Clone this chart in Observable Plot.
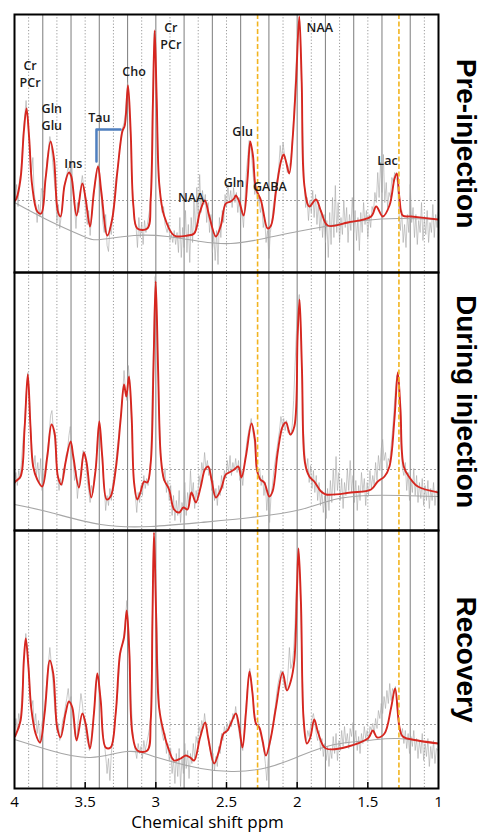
<!DOCTYPE html>
<html><head><meta charset="utf-8">
<script src="https://cdn.jsdelivr.net/npm/d3@7"></script>
<script src="https://cdn.jsdelivr.net/npm/@observablehq/plot@0.6"></script>
<style>body{margin:0;background:#fff;}#chart svg{display:block;}</style>
</head><body><div id="chart"></div>
<script>
// ---------- categories / ticks ----------
const panels = ["Pre-injection", "During injection", "Recovery"];
const xTicks = [4, 3.5, 3, 2.5, 2, 1.5, 1];
const solidGrid = [3.8, 3.6, 3.4, 3.2, 3.0, 2.8, 2.6, 2.4, 2.2, 2.0, 1.8, 1.6, 1.4, 1.2];
const dottedGrid = [3.9, 3.7, 3.5, 3.3, 3.1, 2.9, 2.7, 2.5, 2.1, 1.9, 1.7, 1.5, 1.1];
const markerPpm = [2.28, 1.28];
const refLevel = [72, 61, 64];

// ---------- fitted spectra [ppm, intensity a.u.] ----------
const fitPre = [[3.995,72],[3.986,74],[3.957,94],[3.934,141],[3.915,164],[3.896,134],[3.875,87],[3.839,61],[3.811,59],[3.78,94],[3.745,131],[3.721,114],[3.693,61],[3.674,56],[3.646,87],[3.615,100],[3.598,96],[3.561,57],[3.52,89],[3.497,74],[3.466,46],[3.438,81],[3.409,106],[3.386,81],[3.343,37],[3.308,54],[3.272,101],[3.237,141],[3.22,147],[3.197,187],[3.178,141],[3.159,67],[3.131,44],[3.06,44],[3.036,74],[3.02,174],[3.008,242],[2.994,174],[2.975,87],[2.942,57],[2.871,37],[2.776,37],[2.729,39],[2.687,61],[2.653,72],[2.623,57],[2.575,36],[2.54,47],[2.505,69],[2.469,71],[2.446,74],[2.434,77],[2.41,71],[2.379,57],[2.351,94],[2.332,131],[2.313,117],[2.292,84],[2.256,72],[2.209,44],[2.185,47],[2.15,81],[2.115,111],[2.096,118],[2.079,111],[2.056,99],[2.032,134],[2.008,191],[1.985,256],[1.968,191],[1.949,87],[1.914,66],[1.867,73],[1.831,61],[1.784,47],[1.642,50],[1.477,56],[1.441,66],[1.394,56],[1.347,67],[1.311,94],[1.295,99],[1.276,74],[1.253,57],[1.193,56],[1.0,53]];
const fitDuring = [[3.997,48],[3.993,49],[3.957,54],[3.929,101],[3.906,156],[3.887,104],[3.868,64],[3.839,51],[3.804,44],[3.768,74],[3.738,106],[3.717,98],[3.693,54],[3.669,46],[3.639,68],[3.603,89],[3.584,74],[3.544,43],[3.509,78],[3.49,68],[3.457,33],[3.426,61],[3.4,109],[3.379,74],[3.348,31],[3.32,34],[3.284,61],[3.249,111],[3.225,146],[3.209,134],[3.19,154],[3.171,114],[3.154,48],[3.131,31],[3.107,39],[3.083,49],[3.06,48],[3.036,68],[3.017,161],[3.001,249],[2.984,161],[2.965,74],[2.942,51],[2.906,41],[2.871,21],[2.835,18],[2.805,23],[2.776,21],[2.748,38],[2.717,28],[2.682,44],[2.653,61],[2.63,64],[2.606,51],[2.575,33],[2.54,41],[2.505,56],[2.481,58],[2.446,61],[2.417,64],[2.394,53],[2.363,74],[2.323,107],[2.299,91],[2.285,61],[2.261,51],[2.233,48],[2.197,34],[2.174,39],[2.138,78],[2.103,104],[2.079,108],[2.049,96],[2.02,104],[1.997,194],[1.983,231],[1.966,161],[1.945,68],[1.914,54],[1.879,49],[1.831,39],[1.796,36],[1.619,38],[1.477,41],[1.43,49],[1.382,54],[1.347,64],[1.312,111],[1.288,158],[1.269,121],[1.246,64],[1.205,53],[1.146,44],[1.0,38]];
const fitRecovery = [[3.997,52],[3.993,53],[3.957,68],[3.934,128],[3.92,150],[3.901,121],[3.882,81],[3.851,55],[3.82,46],[3.787,75],[3.75,128],[3.726,115],[3.698,61],[3.674,51],[3.639,75],[3.615,87],[3.591,81],[3.561,48],[3.52,75],[3.497,65],[3.466,40],[3.438,75],[3.414,115],[3.39,88],[3.355,41],[3.32,41],[3.284,75],[3.253,135],[3.225,151],[3.206,178],[3.187,135],[3.166,55],[3.131,38],[3.06,38],[3.036,68],[3.024,168],[3.013,256],[2.998,175],[2.977,81],[2.942,55],[2.906,38],[2.871,28],[2.824,30],[2.788,33],[2.757,31],[2.729,28],[2.687,51],[2.651,66],[2.63,51],[2.587,25],[2.552,38],[2.521,55],[2.493,58],[2.469,65],[2.434,75],[2.41,61],[2.387,41],[2.363,75],[2.337,117],[2.316,95],[2.292,65],[2.268,61],[2.245,48],[2.221,33],[2.186,51],[2.15,81],[2.103,116],[2.072,98],[2.044,108],[2.02,128],[2.001,201],[1.99,240],[1.973,185],[1.954,68],[1.931,45],[1.907,51],[1.879,69],[1.85,55],[1.796,40],[1.5,50],[1.465,58],[1.434,51],[1.382,55],[1.335,81],[1.307,100],[1.276,61],[1.253,52],[1.146,48],[1.0,45]];

// ---------- raw (noisy) spectra [ppm, intensity] ----------
const rawPre = [[3.998,70],[3.995,72],[3.985,88],[3.975,66],[3.965,92],[3.955,100],[3.935,145],[3.918,172],[3.9,140],[3.88,100],[3.87,115],[3.86,78],[3.85,70],[3.84,50],[3.83,68],[3.82,56],[3.81,84],[3.79,80],[3.77,112],[3.75,136],[3.74,128],[3.73,110],[3.71,80],[3.70,50],[3.69,68],[3.68,44],[3.665,62],[3.65,85],[3.635,95],[3.62,105],[3.605,98],[3.595,111],[3.585,80],[3.575,66],[3.565,44],[3.555,70],[3.545,60],[3.535,82],[3.52,97],[3.505,80],[3.495,58],[3.485,48],[3.475,62],[3.465,37],[3.455,56],[3.445,70],[3.43,88],[3.415,104],[3.405,108],[3.395,88],[3.385,72],[3.375,50],[3.365,40],[3.355,58],[3.345,27],[3.335,21],[3.325,45],[3.315,38],[3.305,60],[3.295,72],[3.285,92],[3.27,105],[3.255,125],[3.24,142],[3.225,150],[3.215,160],[3.2,190],[3.19,170],[3.18,138],[3.17,100],[3.16,68],[3.15,52],[3.14,46],[3.13,25],[3.12,55],[3.11,35],[3.1,50],[3.09,28],[3.08,52],[3.07,40],[3.06,48],[3.045,62],[3.035,80],[3.025,160],[3.012,240],[3.0,200],[2.99,150],[2.98,100],[2.965,74],[2.955,60],[2.945,66],[2.935,48],[2.92,40],[2.91,50],[2.9,32],[2.89,38],[2.88,30],[2.87,42],[2.86,28],[2.85,40],[2.84,20],[2.83,55],[2.82,15],[2.81,45],[2.8,25],[2.79,62],[2.78,20],[2.77,48],[2.76,10],[2.75,55],[2.74,30],[2.73,72],[2.72,40],[2.71,85],[2.70,50],[2.69,98],[2.68,60],[2.67,82],[2.66,68],[2.65,78],[2.64,50],[2.63,70],[2.62,40],[2.61,58],[2.60,20],[2.59,38],[2.58,12],[2.57,42],[2.56,8],[2.55,55],[2.54,35],[2.53,62],[2.52,50],[2.51,78],[2.50,65],[2.49,88],[2.48,70],[2.47,82],[2.46,65],[2.45,85],[2.44,70],[2.43,80],[2.42,60],[2.41,75],[2.40,55],[2.39,62],[2.38,45],[2.37,70],[2.36,100],[2.35,115],[2.34,132],[2.33,128],[2.32,112],[2.31,95],[2.30,78],[2.29,86],[2.28,70],[2.27,76],[2.26,60],[2.25,68],[2.24,45],[2.23,55],[2.22,30],[2.21,42],[2.20,14],[2.19,40],[2.18,50],[2.17,65],[2.16,75],[2.15,88],[2.14,95],[2.13,105],[2.12,127],[2.11,112],[2.10,130],[2.09,118],[2.08,112],[2.07,100],[2.06,105],[2.05,110],[2.04,120],[2.03,140],[2.015,185],[2.0,230],[1.99,250],[1.98,245],[1.97,195],[1.96,140],[1.95,90],[1.94,65],[1.93,75],[1.92,52],[1.91,72],[1.90,60],[1.89,82],[1.88,55],[1.87,78],[1.86,48],[1.85,70],[1.84,42],[1.83,62],[1.82,35],[1.81,58],[1.80,30],[1.79,52],[1.78,15],[1.77,60],[1.76,28],[1.75,75],[1.74,35],[1.73,87],[1.72,40],[1.71,70],[1.70,30],[1.69,55],[1.68,38],[1.67,72],[1.66,45],[1.65,65],[1.64,30],[1.63,58],[1.62,42],[1.61,75],[1.60,40],[1.59,62],[1.58,32],[1.57,55],[1.56,22],[1.55,60],[1.54,40],[1.53,70],[1.52,48],[1.51,62],[1.50,35],[1.49,58],[1.48,45],[1.47,66],[1.46,60],[1.45,80],[1.44,70],[1.43,100],[1.42,75],[1.41,110],[1.40,80],[1.39,118],[1.38,70],[1.37,90],[1.36,65],[1.35,80],[1.34,75],[1.33,95],[1.32,90],[1.31,100],[1.30,95],[1.29,90],[1.28,60],[1.27,42],[1.26,62],[1.25,30],[1.24,48],[1.23,25],[1.22,58],[1.21,40],[1.20,88],[1.19,50],[1.18,65],[1.17,35],[1.16,58],[1.15,28],[1.14,52],[1.13,40],[1.12,70],[1.11,32],[1.10,55],[1.09,38],[1.08,62],[1.07,30],[1.06,50],[1.05,40],[1.04,68],[1.03,35],[1.02,58],[1.01,45],[1.002,60]];
const rawDuring = [[3.998,50],[3.99,58],[3.98,45],[3.97,60],[3.96,52],[3.95,70],[3.94,90],[3.93,105],[3.92,130],[3.91,150],[3.905,158],[3.895,135],[3.885,100],[3.875,78],[3.865,62],[3.855,75],[3.845,55],[3.835,68],[3.825,48],[3.815,72],[3.805,40],[3.795,55],[3.785,60],[3.775,70],[3.765,82],[3.755,95],[3.745,115],[3.735,120],[3.725,100],[3.715,92],[3.705,70],[3.695,55],[3.685,40],[3.675,52],[3.665,45],[3.655,62],[3.645,58],[3.635,75],[3.625,80],[3.615,95],[3.605,104],[3.595,82],[3.585,70],[3.575,50],[3.565,60],[3.555,32],[3.545,48],[3.535,55],[3.525,65],[3.515,80],[3.505,75],[3.495,70],[3.485,50],[3.475,40],[3.465,28],[3.455,45],[3.445,38],[3.435,55],[3.425,60],[3.415,85],[3.405,105],[3.395,100],[3.385,80],[3.375,60],[3.365,45],[3.355,20],[3.345,35],[3.335,25],[3.325,42],[3.315,30],[3.305,48],[3.295,55],[3.285,65],[3.275,80],[3.265,92],[3.255,108],[3.245,118],[3.235,135],[3.225,160],[3.215,140],[3.205,130],[3.195,165],[3.185,150],[3.175,115],[3.165,80],[3.155,50],[3.145,35],[3.135,18],[3.125,38],[3.115,28],[3.105,45],[3.095,35],[3.085,55],[3.075,42],[3.065,52],[3.055,45],[3.045,58],[3.035,72],[3.025,140],[3.015,190],[3.005,254],[2.995,220],[2.985,165],[2.975,110],[2.965,78],[2.955,60],[2.945,50],[2.935,62],[2.925,38],[2.915,50],[2.905,30],[2.895,45],[2.885,15],[2.875,35],[2.865,10],[2.855,30],[2.845,15],[2.835,40],[2.825,8],[2.815,28],[2.805,20],[2.795,48],[2.785,15],[2.775,38],[2.765,25],[2.755,60],[2.745,35],[2.735,48],[2.725,22],[2.715,40],[2.705,30],[2.695,55],[2.685,45],[2.675,68],[2.665,58],[2.655,78],[2.645,62],[2.635,70],[2.625,55],[2.615,62],[2.605,40],[2.595,50],[2.585,30],[2.575,42],[2.565,25],[2.555,45],[2.545,35],[2.535,55],[2.525,42],[2.515,60],[2.505,52],[2.495,70],[2.485,58],[2.475,75],[2.465,55],[2.455,68],[2.445,60],[2.435,72],[2.425,58],[2.415,70],[2.405,50],[2.395,60],[2.385,45],[2.375,62],[2.365,78],[2.355,90],[2.345,98],[2.335,105],[2.325,112],[2.315,100],[2.305,92],[2.295,75],[2.285,65],[2.275,58],[2.265,62],[2.255,45],[2.245,55],[2.235,35],[2.225,48],[2.215,20],[2.205,40],[2.195,8],[2.185,35],[2.175,45],[2.165,60],[2.155,70],[2.145,80],[2.135,90],[2.125,100],[2.115,114],[2.105,105],[2.095,112],[2.085,100],[2.075,110],[2.065,98],[2.055,100],[2.045,95],[2.035,105],[2.025,130],[2.015,165],[2.005,200],[1.995,225],[1.985,236],[1.975,200],[1.965,150],[1.955,100],[1.945,75],[1.935,60],[1.925,72],[1.915,48],[1.905,65],[1.895,42],[1.885,60],[1.875,38],[1.865,55],[1.855,30],[1.845,48],[1.835,25],[1.825,40],[1.815,18],[1.805,35],[1.795,12],[1.785,42],[1.775,20],[1.765,50],[1.755,28],[1.745,62],[1.735,35],[1.725,74],[1.715,40],[1.705,58],[1.695,30],[1.685,52],[1.675,22],[1.665,48],[1.655,35],[1.645,62],[1.635,40],[1.625,70],[1.615,38],[1.605,55],[1.595,28],[1.585,50],[1.575,20],[1.565,45],[1.555,30],[1.545,58],[1.535,38],[1.525,52],[1.515,25],[1.505,48],[1.495,35],[1.485,60],[1.475,42],[1.465,55],[1.455,45],[1.445,68],[1.435,50],[1.425,75],[1.415,60],[1.405,82],[1.395,91],[1.385,70],[1.375,78],[1.365,62],[1.355,72],[1.345,68],[1.335,85],[1.325,100],[1.315,120],[1.305,140],[1.295,155],[1.285,150],[1.275,120],[1.265,85],[1.255,62],[1.245,55],[1.235,68],[1.225,40],[1.215,58],[1.205,30],[1.195,50],[1.185,38],[1.175,62],[1.165,35],[1.155,55],[1.145,28],[1.135,48],[1.125,32],[1.115,52],[1.105,25],[1.095,45],[1.085,30],[1.075,50],[1.065,22],[1.055,42],[1.045,30],[1.035,48],[1.025,25],[1.015,40],[1.003,35]];
const rawRecovery = [[3.998,55],[3.99,70],[3.98,58],[3.97,75],[3.96,65],[3.95,88],[3.94,110],[3.93,135],[3.92,155],[3.91,140],[3.9,122],[3.89,95],[3.88,80],[3.87,88],[3.86,62],[3.85,75],[3.84,55],[3.83,68],[3.82,45],[3.81,62],[3.8,70],[3.79,78],[3.78,92],[3.77,110],[3.76,125],[3.75,141],[3.74,125],[3.73,110],[3.72,90],[3.71,72],[3.70,58],[3.69,65],[3.68,48],[3.67,55],[3.66,68],[3.65,72],[3.64,82],[3.63,90],[3.62,100],[3.61,85],[3.60,92],[3.59,75],[3.58,62],[3.57,52],[3.56,48],[3.55,68],[3.54,80],[3.53,95],[3.52,85],[3.51,70],[3.50,62],[3.49,50],[3.48,45],[3.47,38],[3.46,48],[3.45,58],[3.44,72],[3.43,90],[3.42,108],[3.41,112],[3.40,95],[3.39,85],[3.38,65],[3.37,50],[3.36,40],[3.35,25],[3.345,15],[3.335,30],[3.325,8],[3.315,35],[3.305,50],[3.295,58],[3.285,72],[3.275,88],[3.265,105],[3.255,130],[3.245,140],[3.235,145],[3.225,155],[3.215,170],[3.205,188],[3.195,165],[3.185,130],[3.175,90],[3.165,60],[3.155,45],[3.145,38],[3.135,30],[3.125,45],[3.115,35],[3.105,42],[3.095,30],[3.085,48],[3.075,38],[3.065,45],[3.055,52],[3.045,60],[3.035,75],[3.025,165],[3.015,250],[3.005,215],[2.995,170],[2.985,120],[2.975,82],[2.965,65],[2.955,55],[2.945,48],[2.935,55],[2.925,35],[2.915,45],[2.905,28],[2.895,40],[2.885,15],[2.875,30],[2.865,5],[2.855,35],[2.845,12],[2.835,40],[2.825,2],[2.815,30],[2.805,15],[2.795,45],[2.785,20],[2.775,38],[2.765,10],[2.755,35],[2.745,25],[2.735,45],[2.725,30],[2.715,52],[2.705,45],[2.695,62],[2.685,55],[2.675,68],[2.665,60],[2.655,75],[2.645,62],[2.635,55],[2.625,45],[2.615,38],[2.605,28],[2.595,35],[2.585,18],[2.575,32],[2.565,22],[2.555,42],[2.545,35],[2.535,55],[2.525,48],[2.515,62],[2.505,55],[2.495,65],[2.485,58],[2.475,68],[2.465,62],[2.455,75],[2.445,70],[2.435,82],[2.425,68],[2.415,60],[2.405,50],[2.395,42],[2.385,38],[2.375,55],[2.365,78],[2.355,95],[2.345,110],[2.335,120],[2.325,108],[2.315,95],[2.305,80],[2.295,68],[2.285,70],[2.275,65],[2.265,58],[2.255,52],[2.245,45],[2.235,38],[2.225,25],[2.215,8],[2.205,30],[2.195,42],[2.185,50],[2.175,62],[2.165,72],[2.155,82],[2.145,95],[2.135,105],[2.125,112],[2.115,118],[2.105,115],[2.095,105],[2.085,100],[2.075,98],[2.065,115],[2.055,141],[2.045,120],[2.035,125],[2.025,138],[2.015,165],[2.005,205],[1.995,240],[1.985,230],[1.975,180],[1.965,120],[1.955,75],[1.945,55],[1.935,48],[1.925,58],[1.915,52],[1.905,62],[1.895,70],[1.885,75],[1.875,65],[1.865,55],[1.855,48],[1.845,58],[1.835,38],[1.825,50],[1.815,32],[1.805,45],[1.795,28],[1.785,42],[1.775,22],[1.765,40],[1.755,30],[1.745,52],[1.735,35],[1.725,55],[1.715,28],[1.705,48],[1.695,38],[1.685,58],[1.675,42],[1.665,62],[1.655,45],[1.645,55],[1.635,40],[1.625,60],[1.615,52],[1.605,66],[1.595,45],[1.585,58],[1.575,38],[1.565,52],[1.555,35],[1.545,55],[1.535,45],[1.525,62],[1.515,50],[1.505,58],[1.495,48],[1.485,62],[1.475,58],[1.465,65],[1.455,55],[1.445,70],[1.435,60],[1.425,78],[1.415,70],[1.405,85],[1.395,75],[1.385,92],[1.375,80],[1.365,98],[1.355,85],[1.345,105],[1.335,88],[1.325,100],[1.315,95],[1.305,102],[1.295,85],[1.285,70],[1.275,60],[1.265,52],[1.255,60],[1.245,45],[1.235,58],[1.225,40],[1.215,55],[1.205,35],[1.195,52],[1.185,42],[1.175,58],[1.165,38],[1.155,50],[1.145,30],[1.135,48],[1.125,35],[1.115,55],[1.105,28],[1.095,45],[1.085,32],[1.075,50],[1.065,22],[1.055,42],[1.045,30],[1.035,48],[1.025,25],[1.015,40],[1.003,38]];

// ---------- fitted baselines [ppm, intensity] ----------
const basePre = [[4.0,70],[3.745,51],[3.509,36],[3.39,33],[3.154,37],[2.918,36],[2.682,31],[2.469,29],[2.233,34],[1.997,41],[1.76,47],[1.524,52],[1.288,54],[1.0,53]];
const baseDuring = [[4.0,26],[3.745,18],[3.39,6],[3.036,4],[2.682,8],[2.327,13],[1.973,21],[1.737,31],[1.5,35],[1.264,35],[1.0,34]];
const baseRecovery = [[4.0,49],[3.745,38],[3.461,31],[3.202,37],[2.989,31],[2.682,20],[2.446,17],[2.21,21],[1.973,33],[1.737,44],[1.5,48],[1.288,50],[1.0,45]];

// ---------- annotations (Pre-injection panel) ----------
const labelText = ["Cr\nPCr", "Gln\nGlu", "Ins", "Tau", "Cho", "Cr\nPCr", "NAA", "Gln", "Glu", "GABA", "NAA", "Lac"];
const labelPpm  = [3.89, 3.736, 3.584, 3.40, 3.154, 2.894, 2.75, 2.447, 2.386, 2.193, 1.84, 1.361];
const labelInt  = [199, 156, 110, 156, 202, 237, 76, 91, 142, 87, 246, 113];
const tauBracketPpm = [3.42, 3.42, 3.25];
const tauBracketInt = [111, 143, 143];

// ---------- build tables ----------
const toRows = (arr, panel) => arr.map(([ppm, v]) => ({panel, ppm, v}));
const fitRows = [...toRows(fitPre, panels[0]), ...toRows(fitDuring, panels[1]), ...toRows(fitRecovery, panels[2])];
const rawRows = [...toRows(rawPre, panels[0]), ...toRows(rawDuring, panels[1]), ...toRows(rawRecovery, panels[2])];
const baseRows = [...toRows(basePre, panels[0]), ...toRows(baseDuring, panels[1]), ...toRows(baseRecovery, panels[2])];
const levelRows = panels.map((panel, i) => ({panel, v: refLevel[i]}));
const labelRows = labelText.map((t, i) => ({panel: panels[0], text: t, ppm: labelPpm[i], v: labelInt[i]}));
const bracketRows = tauBracketPpm.map((p, i) => ({panel: panels[0], ppm: p, v: tauBracketInt[i]}));
const innerTickRows = xTicks.slice(1, -1).map(ppm => ({panel: panels[2], ppm}));

const FONT = "'Open Sans', 'DejaVu Sans', sans-serif";

const chart = Plot.plot({
  width: 482,
  height: 833,
  marginTop: 14,
  marginBottom: 45,
  marginLeft: 14,
  marginRight: 44,
  style: {fontFamily: FONT, background: "white", color: "black", overflow: "visible"},
  x: {domain: [4, 1]},
  y: {domain: [0, 258], axis: null},
  fy: {domain: panels, padding: 0, axis: null},
  marks: [
    Plot.ruleX(solidGrid, {stroke: "#888888", strokeWidth: 1.1}),
    Plot.ruleX(dottedGrid, {stroke: "#9a9a9a", strokeWidth: 1, strokeDasharray: "1.2,2"}),
    Plot.ruleY(levelRows, {fy: "panel", y: "v", stroke: "#8a8a8a", strokeWidth: 0.8, strokeDasharray: "2,2"}),
    Plot.line(baseRows, {fy: "panel", x: "ppm", y: "v", curve: "natural", stroke: "#a6a6a6", strokeWidth: 1.1, clip: true}),
    Plot.line(rawRows, {fy: "panel", x: "ppm", y: "v", stroke: "#a4a4a4", strokeWidth: 0.6, clip: true}),
    Plot.line(fitRows, {fy: "panel", x: "ppm", y: "v", curve: "catmull-rom", stroke: "#d6261f", strokeWidth: 1.9, clip: true}),
    Plot.ruleX(markerPpm, {stroke: "#f2b420", strokeWidth: 1.6, strokeDasharray: "5,2.5"}),
    Plot.line(bracketRows, {fy: "panel", x: "ppm", y: "v", stroke: "#4f7fbf", strokeWidth: 2.5}),
    Plot.text(labelRows, {fy: "panel", x: "ppm", y: "v", text: "text", fontSize: 12.5, fontWeight: 600, lineHeight: 1.36, fill: "#1a1a1a"}),
    Plot.ruleX(innerTickRows, {fy: "panel", x: "ppm", y1: 0, y2: 6, stroke: "black", strokeWidth: 1.5}),
    Plot.frame({stroke: "black", strokeWidth: 2}),
    Plot.text(panels, {fy: d => d, text: d => d, frameAnchor: "right", textAnchor: "middle", lineAnchor: "middle", dx: 27, rotate: 90, fontSize: 28, fontWeight: "bold", fontFamily: "'Liberation Sans', Arial, sans-serif", fill: "black"}),
    Plot.axisX({ticks: xTicks, tickSize: 0, tickPadding: 8, fontSize: 15, tickFormat: d => String(d), label: null}),
    Plot.text([{panel: panels[2], t: "Chemical shift ppm"}], {fy: "panel", text: "t", frameAnchor: "bottom", textAnchor: "middle", dx: -19, dy: 27, lineAnchor: "top", fontSize: 17, fill: "black"})
  ]
});
document.getElementById("chart").appendChild(chart);
</script>
</body></html>
